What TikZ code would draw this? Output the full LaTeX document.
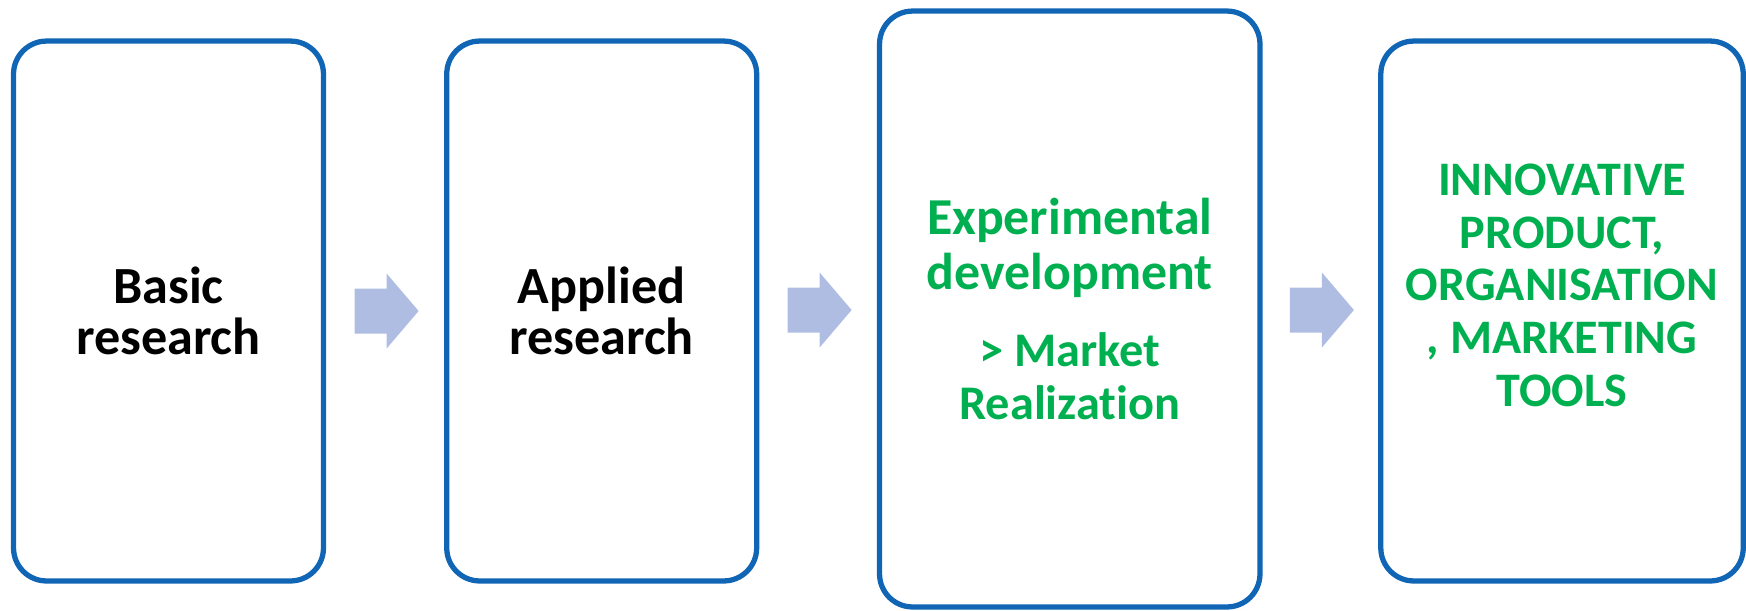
\documentclass[tikz,border=0pt]{standalone}
\usepackage{fontspec}
\setmainfont{Carlito}[Ligatures=NoCommon]
\usetikzlibrary{calc}
\definecolor{boxblue}{RGB}{16,101,180}
\definecolor{arrowblue}{RGB}{174,189,225}
\definecolor{textgreen}{RGB}{0,176,80}

\begin{document}
\begin{tikzpicture}[x=0.02cm, y=0.02cm,
    stage/.style={draw=boxblue, line width=3pt, rounded corners=0.66cm,
      align=flush center, inner sep=0pt, text width=5.8cm,
      font=\bfseries\fontsize{29.7}{29.2}\selectfont},
    flow/.style={fill=arrowblue, to path={
      ($(\tikztostart)!0.5!(\tikztotarget)$) ++(-30.5,22.5) -- ++(32,0)
      -- ++(0,15) -- ++(32,-37.5) -- ++(-32,-37.5) -- ++(0,15) -- ++(-32,0) -- cycle}}]
      \useasboundingbox (0,0) rectangle (1746,-610);
      % the four stages
      \node[stage, minimum width=6.2cm, minimum height=10.8cm]  (basic)   at (168.5,-311) {Basic\\research};
      \node[stage, minimum width=6.2cm, minimum height=10.8cm]  (applied) at (601.7,-311) {Applied\\research};
      \node[stage, minimum width=7.61cm, minimum height=11.92cm, text width=7.2cm, text=textgreen,
            font=\bfseries\fontsize{29.5}{30}\selectfont]     (experimental) at (1069.75,-309)
            {Experimental\\[1.2pt]development\\[14.2pt]\fontsize{27.5}{30}\selectfont > Market\\Realization};
      \node[stage, minimum width=7.25cm, minimum height=10.8cm, text width=7cm, text=textgreen,
            text depth=5.25cm, font=\bfseries\fontsize{27.4}{30}\selectfont] (innovative) at (1562,-311)
            {INNOVATIVE\\PRODUCT,\\ORGANISATION\\, MARKETING\\TOOLS};
      % block arrows between them
      \foreach \fra/\til in {basic/applied, applied/experimental, experimental/innovative}
        \path[flow] (\fra.east) to (\til.west);
    \end{tikzpicture}
\end{document}
